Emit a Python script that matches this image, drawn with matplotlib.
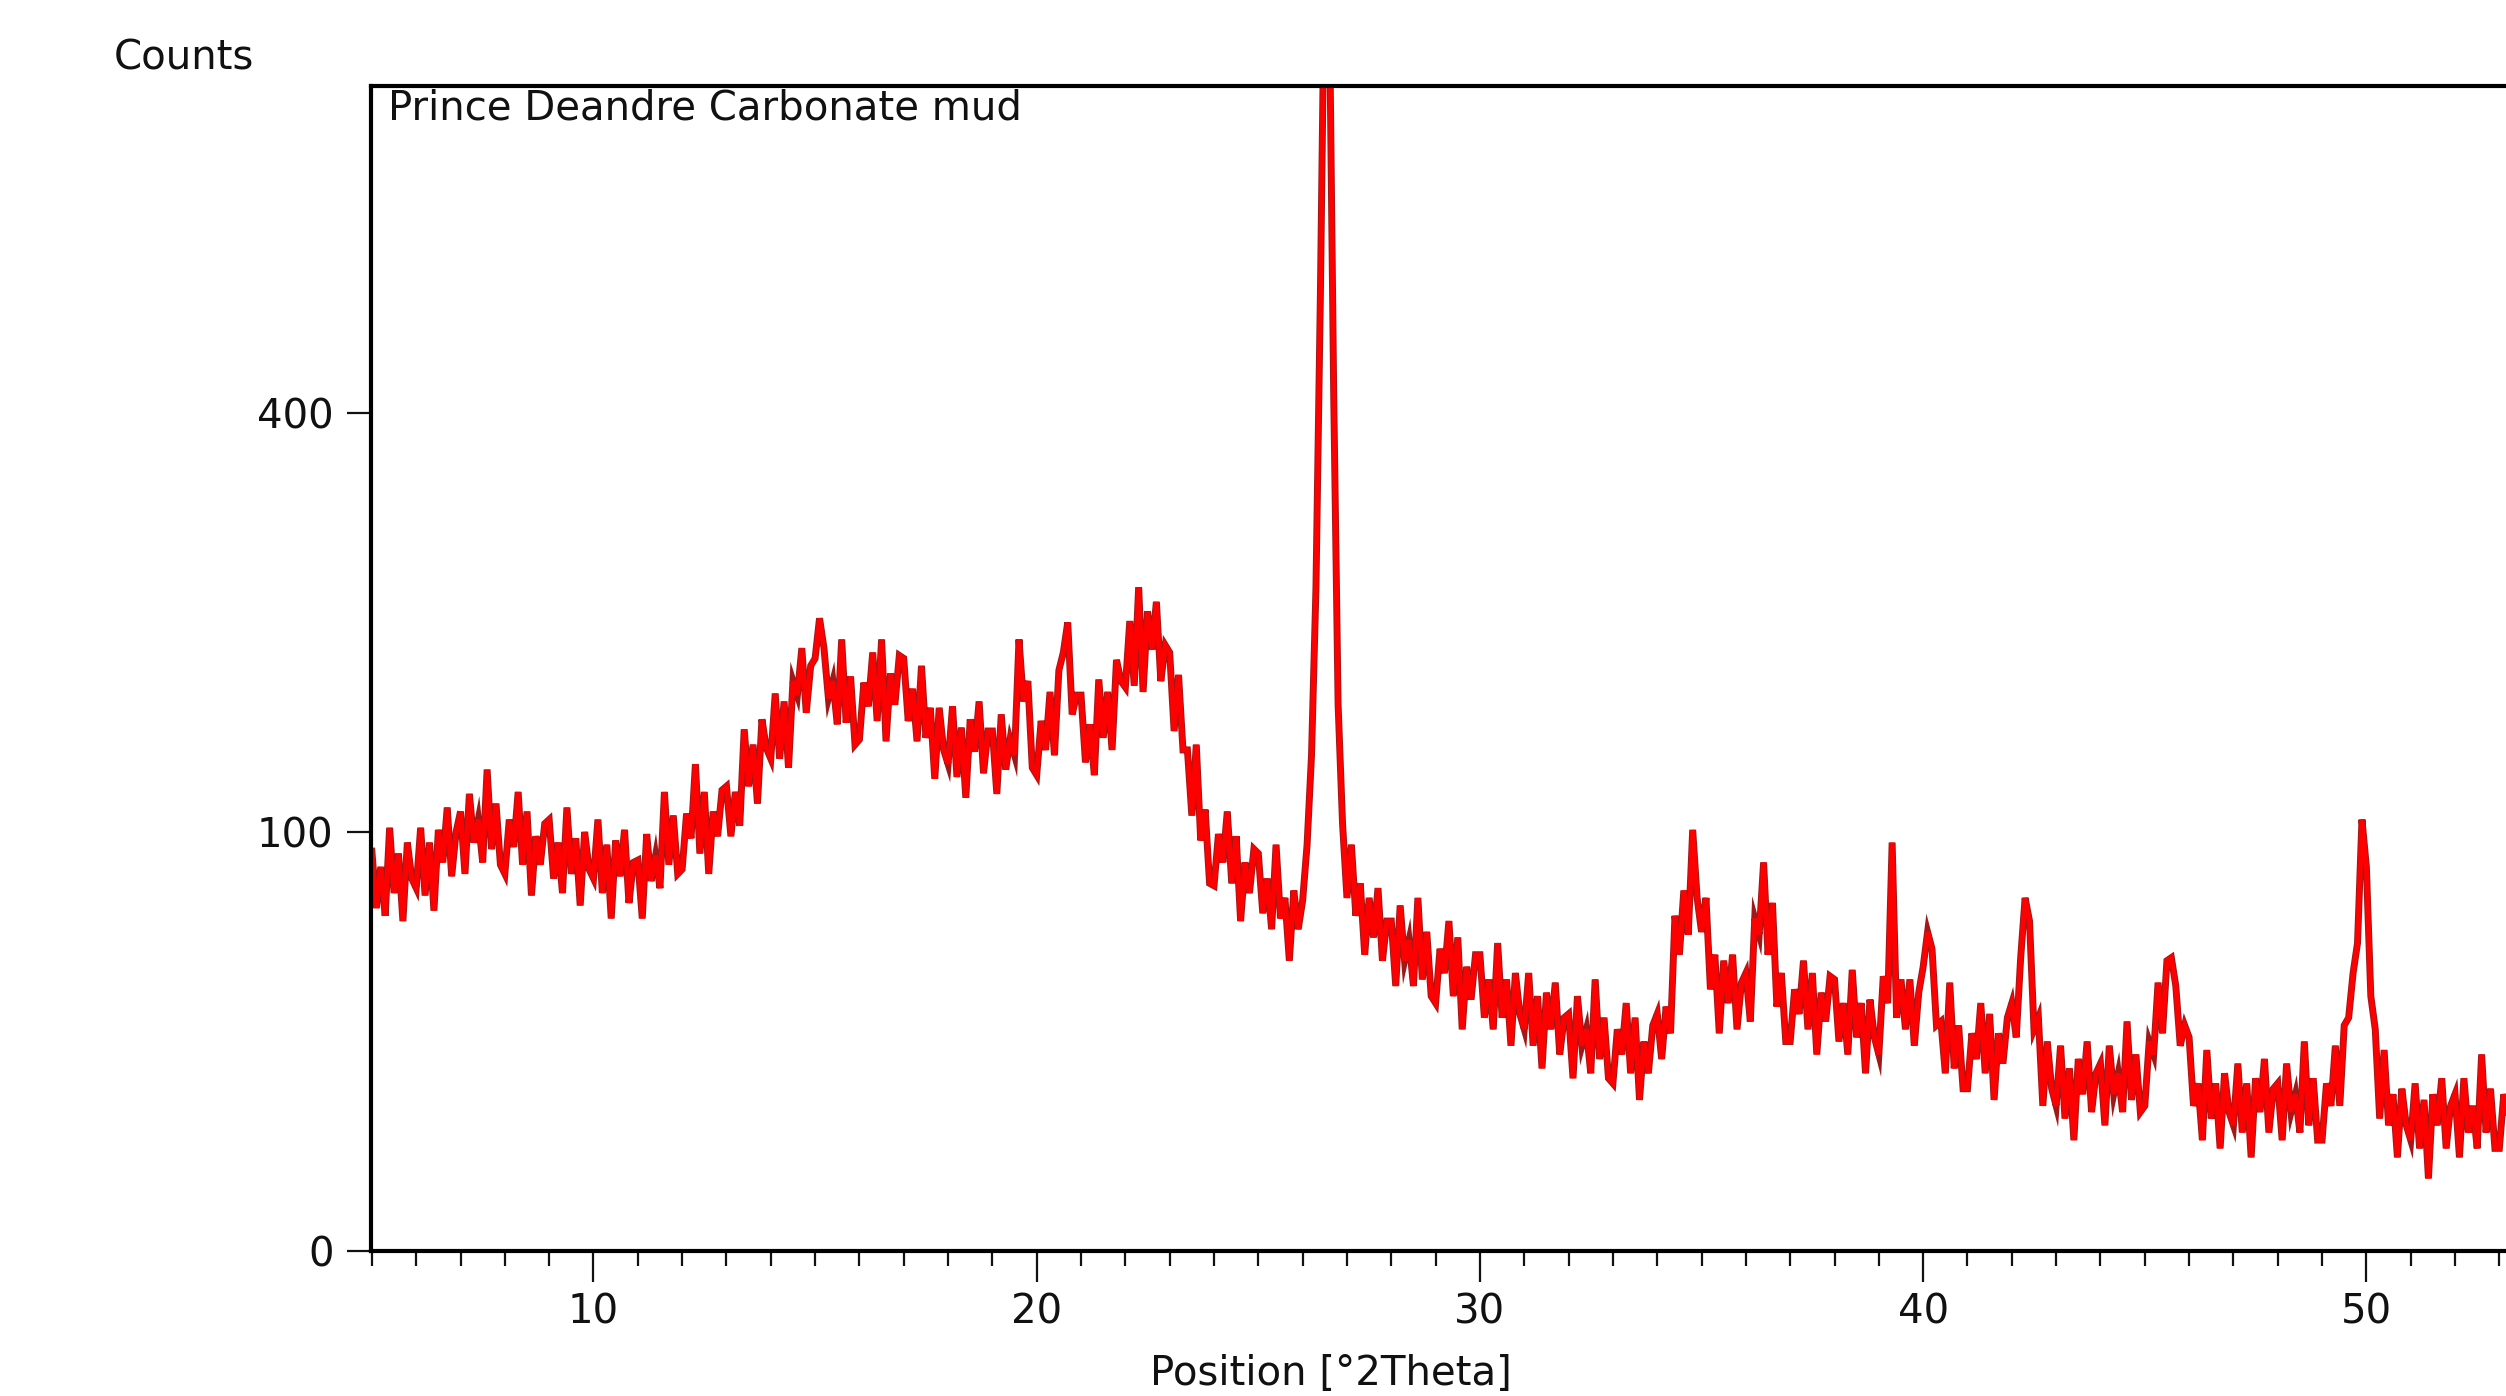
import numpy as np
import matplotlib
matplotlib.use("Agg")
import matplotlib.pyplot as plt
from matplotlib.ticker import FixedLocator, MultipleLocator, NullLocator

# ---------------- data ----------------
scan_start = 5.0      # degrees 2Theta
scan_step = 0.1       # degrees 2Theta
counts = [
    # 5.x
    91, 67, 84, 64, 102, 73, 90, 62, 95, 79,
    # 6.x
    75, 102, 72, 95, 66, 101, 86, 112, 80, 100,
    # 7.x
    110, 81, 119, 95, 106, 86, 132, 92, 114, 85,
    # 8.x
    81, 106, 93, 120, 85, 110, 72, 98, 85, 104,
    # 9.x
    106, 79, 95, 73, 112, 81, 97, 68, 100, 83,
    # 10.x
    79, 106, 73, 94, 63, 96, 80, 101, 69, 86,
    # 11.x
    87, 63, 99, 78, 89, 75, 120, 85, 108, 81,
    # 12.x
    83, 109, 97, 135, 90, 120, 81, 110, 98, 121,
    # 13.x
    123, 98, 120, 103, 155, 123, 146, 114, 161, 144,
    # 14.x
    138, 177, 138, 172, 133, 185, 176, 207, 165, 195,
    # 15.x
    200, 228, 207, 174, 185, 158, 213, 159, 188, 146,
    # 16.x
    149, 184, 169, 204, 160, 213, 148, 190, 170, 202,
    # 17.x
    200, 160, 180, 148, 195, 150, 168, 127, 168, 143,
    # 18.x
    135, 169, 128, 156, 117, 161, 142, 172, 130, 154,
    # 19.x
    154, 119, 164, 132, 149, 140, 213, 172, 185, 133,
    # 20.x
    129, 160, 143, 178, 140, 192, 204, 225, 164, 176,
    # 21.x
    176, 136, 158, 129, 186, 150, 178, 143, 199, 185,
    # 22.x
    181, 226, 182, 251, 178, 233, 206, 240, 185, 209,
    # 23.x
    204, 154, 189, 143, 143, 108, 146, 96, 111, 77,
    # 24.x
    76, 99, 86, 110, 77, 98, 62, 86, 73, 92,
    # 25.x
    90, 65, 79, 59, 94, 63, 71, 48, 74, 59,
    # 26.x
    70, 94, 140, 250, 520, 980, 900, 420, 170, 104,
    # 27.x
    71, 94, 64, 77, 50, 71, 56, 75, 48, 62,
    # 28.x
    62, 40, 68, 48, 55, 40, 71, 42, 58, 37,
    # 29.x
    35, 52, 44, 62, 37, 56, 28, 46, 36, 50,
    # 30.x
    50, 31, 42, 28, 54, 31, 42, 24, 44, 32,
    # 31.x
    28, 44, 24, 37, 19, 38, 28, 41, 22, 31,
    # 32.x
    32, 17, 37, 24, 28, 18, 42, 21, 31, 17,
    # 33.x
    16, 28, 22, 35, 18, 31, 13, 25, 18, 29,
    # 34.x
    32, 21, 34, 27, 64, 50, 74, 57, 101, 71,
    # 35.x
    58, 71, 39, 50, 27, 48, 35, 50, 28, 41,
    # 36.x
    44, 30, 63, 57, 86, 50, 69, 34, 44, 25,
    # 37.x
    25, 39, 32, 48, 28, 44, 22, 38, 30, 43,
    # 38.x
    42, 25, 35, 22, 45, 26, 35, 18, 36, 26,
    # 39.x
    22, 43, 35, 95, 31, 42, 28, 42, 24, 38,
    # 40.x
    46, 58, 52, 29, 30, 18, 41, 19, 29, 15,
    # 41.x
    15, 27, 21, 35, 18, 32, 13, 27, 20, 31,
    # 42.x
    35, 26, 49, 71, 62, 28, 31, 12, 25, 15,
    # 43.x
    12, 24, 10, 19, 7, 21, 14, 25, 11, 18,
    # 44.x
    20, 9, 24, 14, 18, 11, 30, 13, 22, 11,
    # 45.x
    12, 25, 22, 41, 27, 48, 49, 40, 24, 29,
    # 46.x
    26, 12, 16, 7, 23, 10, 16, 6, 18, 11,
    # 47.x
    9, 20, 8, 16, 5, 17, 11, 21, 8, 15,
    # 48.x
    16, 7, 20, 11, 14, 8, 25, 9, 17, 7,
    # 49.x
    7, 16, 12, 24, 12, 29, 31, 44, 54, 106,
    # 50.x
    84, 37, 28, 10, 23, 9, 14, 5, 15, 9,
    # 51.x
    7, 16, 6, 13, 3, 14, 9, 17, 6, 12,
    # 52.x
    14, 5, 17, 8, 12, 6, 22, 8, 15, 6,
    # 53.x
    6, 14, 10,
]
x_major_ticks = [10, 20, 30, 40, 50]
y_ticks = [0, 100, 400]
sample_name = "Prince Deandre Carbonate mud"
x_label = "Position [°2Theta]"
y_label = "Counts"

two_theta = np.round(scan_start + scan_step * np.arange(len(counts)), 3)

# ---------------- figure ----------------
W, H = 2506, 1396
fig = plt.figure(figsize=(W / 100, H / 100), dpi=100)
plt.rcParams["font.family"] = ["DejaVu Sans"]

left_px, right_px, top_px, bottom_px = 371, 2506, 86, 1251
ax = fig.add_axes([left_px / W, 1 - bottom_px / H,
                   (right_px - left_px) / W, (bottom_px - top_px) / H])

ax.set_yscale("function",
              functions=(lambda v: np.sqrt(np.clip(v, 0, None)),
                         lambda v: np.square(v)))

# dark red outline + bright red body, like the diffractometer trace
ax.plot(two_theta, counts, color="#a01818", lw=5.0, solid_joinstyle="miter")
ax.plot(two_theta, counts, color="#ff0000", lw=3.6, solid_joinstyle="miter")

ax.set_xlim(4.98, 53.15)
ax.set_ylim(0, 773)

ax.xaxis.set_major_locator(FixedLocator(x_major_ticks))
ax.xaxis.set_minor_locator(MultipleLocator(1))
ax.yaxis.set_major_locator(FixedLocator(y_ticks))
ax.yaxis.set_minor_locator(NullLocator())
ax.set_xticklabels([str(t) for t in x_major_ticks])
ax.set_yticklabels([str(t) for t in y_ticks])

txt_col = "#111111"
ax.tick_params(axis="x", which="major", direction="out", length=22, width=1.6,
               pad=8, labelsize=29, colors=txt_col)
ax.tick_params(axis="x", which="minor", direction="out", length=11, width=1.6,
               colors=txt_col)
ax.tick_params(axis="y", which="major", direction="out", length=17, width=1.6,
               pad=10, labelsize=29, colors=txt_col)

for s in ("left", "bottom", "top"):
    ax.spines[s].set_linewidth(3.0)
    ax.spines[s].set_color("black")
ax.spines["right"].set_visible(False)

fig.text(184 / W, 1 - 59 / H, y_label, ha="center", va="center",
         fontsize=29, color=txt_col)
fig.text(388 / W, 1 - 109 / H, sample_name, ha="left", va="center",
         fontsize=29, color=txt_col)
fig.text(1331 / W, 1 - 1374 / H, x_label, ha="center", va="center",
         fontsize=29, color=txt_col)

fig.savefig("out.png", dpi=100, facecolor="white")
